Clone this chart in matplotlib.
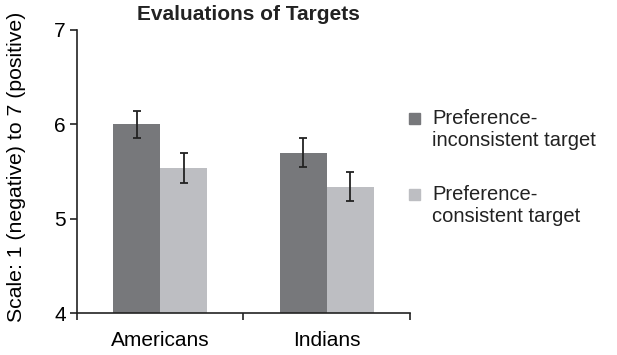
import matplotlib
matplotlib.use("Agg")
import matplotlib.pyplot as plt
from matplotlib.patches import Rectangle
import numpy as np

plt.rcParams['font.family'] = ['Liberation Sans', 'DejaVu Sans']

groups = ["Americans", "Indians"]
series_names = ["Preference-\ninconsistent target", "Preference-\nconsistent target"]
inconsistent = [6.00, 5.70]
inconsistent_err = [0.14, 0.155]
consistent = [5.54, 5.34]
consistent_err = [0.16, 0.155]
yticks = [4, 5, 6, 7]

dark = "#77787b"
light = "#bdbec2"

fig = plt.figure(figsize=(6.17, 3.55), dpi=100)
ax = fig.add_axes([0.1248, 0.1183, 0.5397, 0.7972])

x = np.arange(len(groups))
w = 0.283
err_kw = dict(ecolor="#222222", elinewidth=1.3, capsize=3.2, capthick=1.3)
ax.bar(x - w / 2, inconsistent, w, bottom=0, color=dark, yerr=inconsistent_err, error_kw=err_kw, zorder=2)
ax.bar(x + w / 2, consistent, w, bottom=0, color=light, yerr=consistent_err, error_kw=err_kw, zorder=2)

ax.set_ylim(4, 7)
ax.set_xlim(-0.5, len(groups) - 0.5)
ax.set_yticks(yticks)
ax.set_yticklabels([str(t) for t in yticks], fontsize=15)

# category labels sit between the boundary ticks
ax.set_xticks(np.arange(-0.5, len(groups), 1.0))
ax.set_xticklabels([])
ax.set_xticks(x, minor=True)
ax.set_xticklabels(groups, minor=True, fontsize=15)
ax.tick_params(axis="x", which="minor", length=0, pad=13)
ax.tick_params(axis="x", which="major", length=5, width=1.2, direction="out", color="#222222")
ax.tick_params(axis="y", length=5, width=1.2, pad=3, color="#222222")

for s in ["top", "right"]:
    ax.spines[s].set_visible(False)
for s in ["left", "bottom"]:
    ax.spines[s].set_linewidth(1.2)
    ax.spines[s].set_color("#222222")

ax.set_ylabel("Scale: 1 (negative) to 7 (positive)", fontsize=15.3)
ax.yaxis.set_label_coords(-0.152, 0.515)

fig.text(0.402, 0.958, "Evaluations of Targets", fontsize=15, fontweight="bold",
         ha="center", va="center", color="#222222")

# legend drawn by hand so the swatch lines up with the first text line
leg_y = [1 - 118.5 / 355, 1 - 194.5 / 355]
for name, color, ly in zip(series_names, [dark, light], leg_y):
    fig.add_artist(Rectangle((409 / 617, ly - 5.5 / 355), 11 / 617, 11 / 355,
                             transform=fig.transFigure, color=color))
    fig.text(432 / 617, ly + 10 / 355, name, fontsize=14.5, ha="left", va="top",
             color="#222222", linespacing=1.2)

fig.savefig("out.png", dpi=100)
